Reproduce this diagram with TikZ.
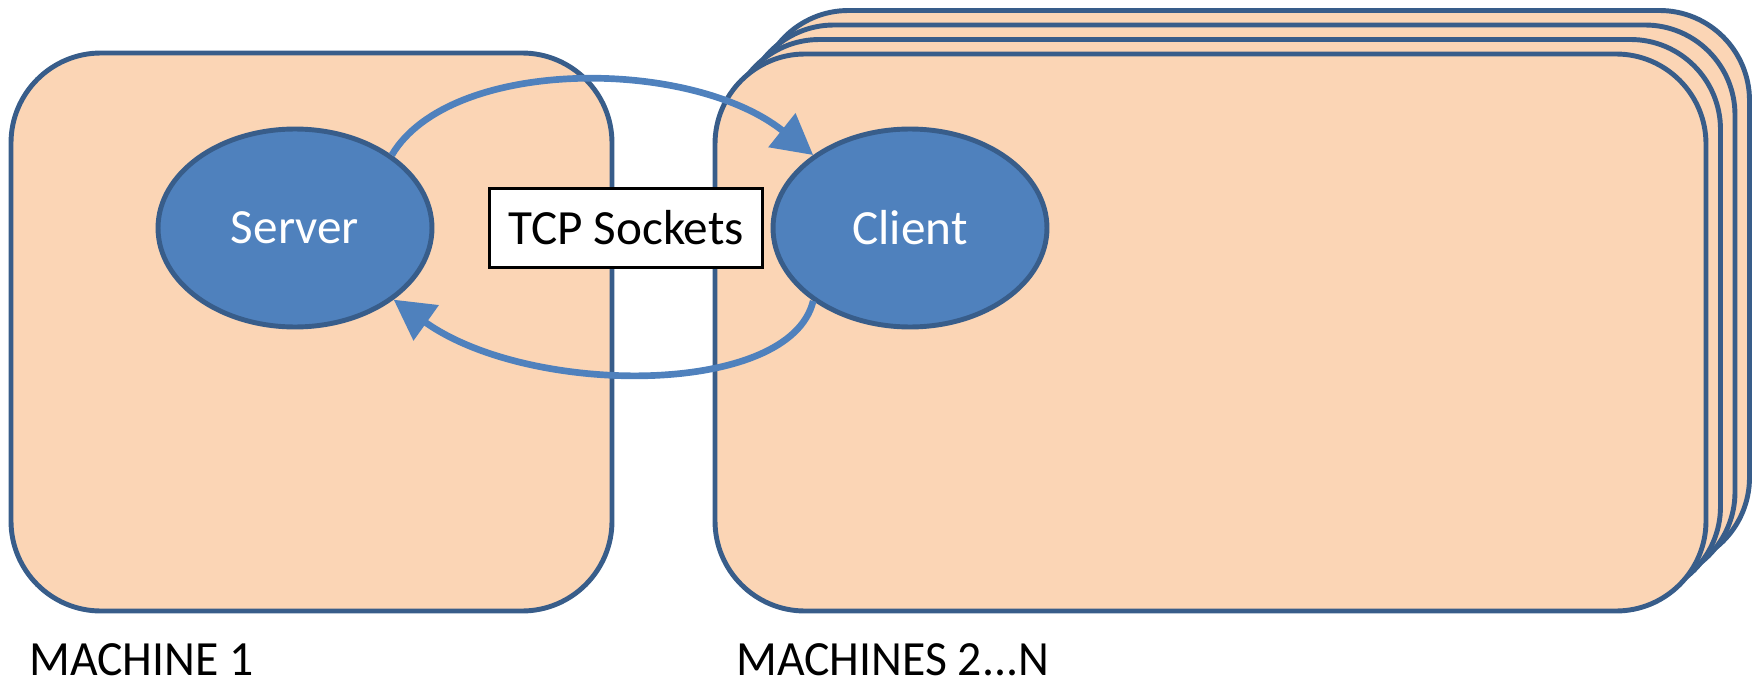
\documentclass[tikz,border=0pt]{standalone}
\usepackage{fontspec}
\setmainfont{Carlito}
\usetikzlibrary{shapes.geometric,arrows.meta}
\definecolor{cpeach}{RGB}{251,213,181}
\definecolor{cedge}{RGB}{56,93,138}
\definecolor{cnode}{RGB}{79,129,189}
\tikzset{netpic/.style={x=0.02cm,y=-0.02cm,font=\fontsize{28}{34}\selectfont},
  machine/.style={fill=cpeach,draw=cedge,line width=2.8pt,rounded corners=1.8cm},
  proc/.style={ellipse,fill=cnode,draw=cedge,line width=2.8pt,text=white,
    minimum width=5.48cm,minimum height=3.96cm,inner sep=0pt},
  link/.style={draw=cnode,line width=3.8pt,-{Triangle[length=0.8cm,width=0.84cm]}}}

\begin{document}
\begin{tikzpicture}[netpic]
    \useasboundingbox (0,0) rectangle (1758,686);
    % machine 1
    \draw[machine] (11,53) rectangle (612,611);
    % machines 2...N, stacked
    \foreach \k in {3,2,1}
      \draw[machine] ({715+14.5*\k},{54-14.5*\k}) rectangle ({1706+14.5*\k},{611-14.5*\k});
    \draw[machine] (715,54) rectangle (1706,611);
    \node[proc] (server) at (295,228) {Server};
    \node[proc] (client) at (910,228) {Client};
    \draw[link] (server.37) .. controls (450,57) and (690,57) .. (client.143);
    \draw[link] (client.217) .. controls (790,397) and (530,397) .. (server.324);
    \node[draw=black,fill=white,line width=1.5pt,minimum width=5.46cm,minimum height=1.58cm,
      inner sep=0pt] (tcp) at (626,228) {TCP Sockets};
    \node[anchor=base west,inner sep=0pt,xscale=0.97] (m1) at (29,675) {MACHINE 1};
    \node[anchor=base west,inner sep=0pt,xscale=0.97] (mn) at (736,675) {MACHINES 2...N};
\end{tikzpicture}
\end{document}
